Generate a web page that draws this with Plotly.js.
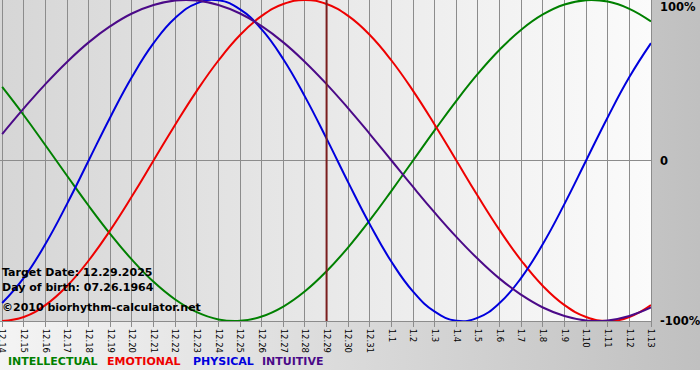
<!DOCTYPE html>
<html>
<head>
<meta charset="utf-8">
<script src="https://cdn.plot.ly/plotly-3.0.1.min.js"></script>
<style>
  html, body { margin: 0; padding: 0; background: #ffffff; }
  #wrap { position: relative; width: 700px; height: 380px; background: #ffffff; }
  #bg { position: absolute; left: 0; top: 0; width: 700px; height: 370px;
        background: linear-gradient(to right, #f4f4f4, #c0c0c0); }
  #chart { position: absolute; left: 0; top: 0; width: 700px; height: 380px; }
</style>
</head>
<body>
<div id="wrap"><div id="bg"></div><div id="chart"></div></div>
<script>
// Day labels (MM.DD)
const days = ["12.14","12.15","12.16","12.17","12.18","12.19","12.20","12.21","12.22","12.23",
  "12.24","12.25","12.26","12.27","12.28","12.29","12.30","12.31","1.1","1.2","1.3","1.4",
  "1.5","1.6","1.7","1.8","1.9","1.10","1.11","1.12","1.13"];
const targetDay = "12.29";

// Series values (fraction of 100%) read per day
const intellectual = [0.458,0.282,0.095,-0.095,-0.282,-0.458,-0.618,-0.756,-0.866,-0.945,-0.990,-0.999,-0.972,-0.910,-0.815,-0.690,
  -0.541,-0.372,-0.189,0.000,0.189,0.372,0.541,0.690,0.815,0.910,0.972,0.999,0.990,0.945,0.866];
const emotional = [-1.000,-0.975,-0.901,-0.782,-0.623,-0.434,-0.223,0.000,0.223,0.434,0.623,0.782,0.901,0.975,1.000,0.975,
  0.901,0.782,0.623,0.434,0.223,0.000,-0.223,-0.434,-0.623,-0.782,-0.901,-0.975,-1.000,-0.975,-0.901];
const physical = [-0.888,-0.731,-0.520,-0.270,0.000,0.270,0.520,0.731,0.888,0.979,0.998,0.942,0.817,0.631,0.398,0.136,
  -0.136,-0.398,-0.631,-0.817,-0.942,-0.998,-0.979,-0.888,-0.731,-0.520,-0.270,0.000,0.270,0.520,0.731];
const intuitive = [0.165,0.325,0.476,0.614,0.736,0.837,0.916,0.969,0.997,0.997,0.969,0.916,0.837,0.736,0.614,0.476,
  0.325,0.165,0.000,-0.165,-0.325,-0.476,-0.614,-0.736,-0.837,-0.916,-0.969,-0.997,-0.997,-0.969,-0.916];

const yTickVals = [1, 0, -1];
const yTickText = ["100%", "0", "-100%"];

const seriesNames = ["INTELLECTUAL", "EMOTIONAL", "PHYSICAL", "INTUITIVE"];
const seriesColors = ["#008000", "#ee0000", "#0000dd", "#4b0a88"];
const seriesData = [intellectual, emotional, physical, intuitive];

const xIdx = days.map((d, i) => i);

const traces = seriesData.map((vals, k) => ({
  x: xIdx, y: vals, type: "scatter", mode: "lines",
  name: seriesNames[k],
  line: { color: seriesColors[k], width: 2, shape: "spline", smoothing: 1.3 },
  hoverinfo: "skip"
}));

const svg = "<svg xmlns='http://www.w3.org/2000/svg' width='100' height='10' preserveAspectRatio='none'>" +
  "<defs><linearGradient id='g' x1='0' y1='0' x2='1' y2='0'><stop offset='0' stop-color='#d6d6d6'/>" +
  "<stop offset='1' stop-color='#fbfbfb'/></linearGradient></defs>" +
  "<rect width='100' height='10' fill='url(#g)'/></svg>";
const bgSrc = "data:image/svg+xml;charset=utf-8," + encodeURIComponent(svg);

const annotations = [];
// right-side percentage labels
yTickVals.forEach((v, i) => {
  annotations.push({
    xref: "paper", yref: "y", x: 1, y: v, xshift: 7,
    yshift: v === 1 ? -7 : 0,
    xanchor: "left", yanchor: "middle", showarrow: false,
    text: "<b>" + yTickText[i] + "</b>",
    font: { family: "DejaVu Sans", size: 11.5, color: "#000000" }
  });
});
// info text
const infoLines = ["Target Date: 12.29.2025", "Day of birth: 07.26.1964", "©2010 biorhythm-calculator.net"];
const infoY = [272, 287, 307];
infoLines.forEach((t, i) => {
  annotations.push({
    xref: "paper", yref: "paper", x: 0, y: 1 - infoY[i] / 321, xshift: 0,
    xanchor: "left", yanchor: "middle", showarrow: false,
    text: "<b>" + t + "</b>",
    font: { family: "DejaVu Sans", size: 11, color: "#000000" }
  });
});
// legend text, one label per series
const legendX = [6, 105, 191, 260];
seriesNames.forEach((n, k) => {
  annotations.push({
    xref: "paper", yref: "paper", x: legendX[k] / 651, y: 1 - 361 / 321,
    xanchor: "left", yanchor: "middle", showarrow: false,
    text: "<b>" + n + "</b>",
    font: { family: "DejaVu Sans", size: 11, color: seriesColors[k] }
  });
});

const tIdx = days.indexOf(targetDay);

const layout = {
  width: 700, height: 380,
  margin: { l: 0, r: 49, t: 0, b: 59, pad: 0 },
  paper_bgcolor: "rgba(0,0,0,0)",
  plot_bgcolor: "rgba(0,0,0,0)",
  showlegend: false,
  xaxis: {
    range: [-0.1, 30], tickmode: "array", tickvals: xIdx, ticktext: days,
    tickangle: 90, tickfont: { family: "DejaVu Sans", size: 8.5, color: "#000000" },
    ticklabeloverflow: "allow",
    showgrid: true, gridcolor: "#8c8c8c", gridwidth: 1,
    ticks: "outside", ticklen: 5, tickcolor: "#8c8c8c",
    showline: true, linecolor: "#8c8c8c", linewidth: 1, mirror: true,
    zeroline: false, fixedrange: true
  },
  yaxis: {
    range: [-1, 1], showticklabels: false, ticks: "",
    showgrid: false, zeroline: true, zerolinecolor: "#8c8c8c", zerolinewidth: 1,
    showline: true, linecolor: "#8c8c8c", mirror: true, fixedrange: true
  },
  images: [{
    source: bgSrc, xref: "paper", yref: "paper", x: 0, y: 1, sizex: 1, sizey: 1,
    sizing: "stretch", xanchor: "left", yanchor: "top", layer: "below"
  }],
  shapes: [{
    type: "line", xref: "x", yref: "paper", x0: tIdx, x1: tIdx, y0: 0, y1: 1,
    line: { color: "#7a1e1e", width: 2 }, layer: "above"
  }],
  annotations: annotations
};

Plotly.newPlot("chart", traces, layout, { displayModeBar: false, staticPlot: true });
</script>
</body>
</html>
